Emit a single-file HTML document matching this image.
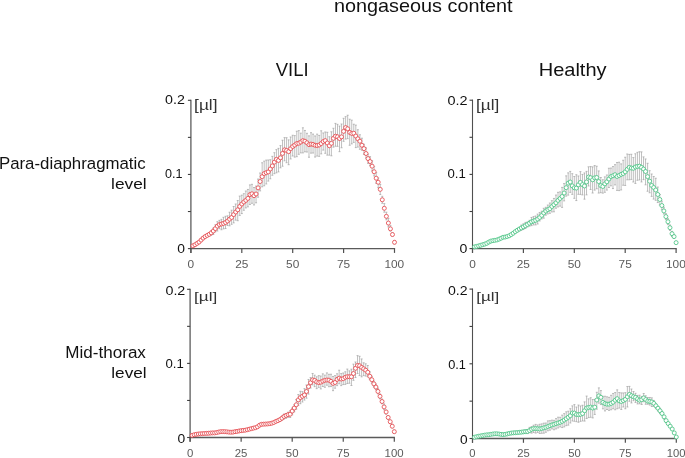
<!DOCTYPE html>
<html><head><meta charset="utf-8"><style>
html,body{margin:0;padding:0;background:#fff;}
body{width:685px;height:458px;overflow:hidden;position:relative;}
svg{position:absolute;left:0;top:0;will-change:transform;}
text{font-family:"Liberation Sans",sans-serif;}
</style></head><body>
<svg width="685" height="458" viewBox="0 0 685 458">
<text transform="translate(333.91,11.80) scale(1.0934,1)" font-size="18.15" fill="#111">nongaseous content</text>
<text transform="translate(275.71,75.90) scale(0.9573,1)" font-size="19.28" fill="#111">VILI</text>
<text transform="translate(538.70,75.70) scale(1.0550,1)" font-size="18.99" fill="#111">Healthy</text>
<text transform="translate(-1.05,168.80) scale(1.0559,1)" font-size="15.94" fill="#111">Para-diaphragmatic</text>
<text transform="translate(111.07,189.30) scale(1.1541,1)" font-size="15.03" fill="#111">level</text>
<text transform="translate(65.33,357.50) scale(1.0064,1)" font-size="16.96" fill="#111">Mid-thorax</text>
<text transform="translate(111.28,377.60) scale(1.1437,1)" font-size="15.03" fill="#111">level</text>
<line x1="190.9" y1="99.7" x2="190.9" y2="252.9" stroke="#5c5c5c" stroke-width="1.3"/>
<line x1="190.3" y1="248.6" x2="395.1" y2="248.6" stroke="#5a5a5a" stroke-width="1.4"/>
<line x1="187.9" y1="248.60" x2="190.9" y2="248.60" stroke="#404040" stroke-width="1.1"/>
<line x1="187.9" y1="211.52" x2="190.9" y2="211.52" stroke="#404040" stroke-width="1.1"/>
<line x1="187.9" y1="174.45" x2="190.9" y2="174.45" stroke="#404040" stroke-width="1.1"/>
<line x1="187.9" y1="137.38" x2="190.9" y2="137.38" stroke="#404040" stroke-width="1.1"/>
<line x1="187.9" y1="100.30" x2="190.9" y2="100.30" stroke="#404040" stroke-width="1.1"/>
<line x1="190.90" y1="248.6" x2="190.90" y2="252.9" stroke="#505050" stroke-width="1.2"/>
<line x1="241.80" y1="248.6" x2="241.80" y2="252.9" stroke="#505050" stroke-width="1.2"/>
<line x1="292.70" y1="248.6" x2="292.70" y2="252.9" stroke="#505050" stroke-width="1.2"/>
<line x1="343.60" y1="248.6" x2="343.60" y2="252.9" stroke="#505050" stroke-width="1.2"/>
<line x1="394.50" y1="248.6" x2="394.50" y2="252.9" stroke="#505050" stroke-width="1.2"/>
<text transform="translate(165.03,103.90) scale(1.0828,1)" font-size="13.14" fill="#111">0.2</text>
<text transform="translate(165.10,177.90) scale(0.9599,1)" font-size="13.14" fill="#111">0.1</text>
<text transform="translate(177.14,252.80) scale(1.0347,1)" font-size="13.43" fill="#111">0</text>
<text transform="translate(194.09,109.58) scale(1.2423,1)" font-size="13.90" fill="#333">[µl]</text>
<text transform="translate(187.60,267.60) scale(1.0942,1)" font-size="10.86" fill="#5c5c5c">0</text>
<text transform="translate(235.15,267.60) scale(1.0942,1)" font-size="10.86" fill="#5c5c5c">25</text>
<text transform="translate(286.11,267.60) scale(1.0942,1)" font-size="10.86" fill="#5c5c5c">50</text>
<text transform="translate(336.95,267.60) scale(1.0942,1)" font-size="10.86" fill="#5c5c5c">75</text>
<text transform="translate(384.40,267.60) scale(1.0942,1)" font-size="10.86" fill="#5c5c5c">100</text>
<path d="M197.01 242.68V244.17M199.04 241.51V242.71M201.08 239.47V240.83M203.12 237.46V238.94M205.15 235.63V237.41M207.19 234.38V236.44M209.22 233.10V235.85M211.26 230.74V235.11M213.30 228.10V234.48M215.33 224.84V231.83M217.37 221.70V231.01M219.40 220.36V228.68M221.44 219.36V229.74M223.48 217.32V228.86M225.51 216.29V228.52M227.55 215.84V225.47M229.58 212.23V225.82M231.62 210.19V224.30M233.66 206.50V222.86M235.69 204.01V220.13M237.73 200.53V220.71M239.76 196.10V215.42M241.80 195.18V213.58M243.84 193.71V210.26M245.87 191.02V207.92M247.91 189.44V206.85M249.94 184.91V204.45M251.98 184.32V203.28M254.02 187.54V204.95M256.05 186.08V202.80M258.09 179.06V197.19M260.12 173.01V190.90M262.16 162.78V186.80M264.20 161.14V185.79M266.23 160.11V183.96M268.27 160.00V181.09M270.30 159.72V178.79M272.34 156.35V175.26M274.38 152.70V173.68M276.41 149.65V172.83M278.45 148.36V171.87M280.48 145.61V167.80M282.52 140.22V166.24M284.56 137.64V160.84M286.59 137.73V162.71M288.63 139.86V164.69M290.66 136.97V158.95M292.70 135.28V156.00M294.74 135.64V157.12M296.77 131.23V156.70M298.81 130.62V154.29M300.84 133.15V152.87M302.88 127.80V152.89M304.92 130.46V151.80M306.95 133.32V152.03M308.99 135.87V157.24M311.02 132.68V153.14M313.06 134.12V153.02M315.10 135.96V157.05M317.13 134.13V156.06M319.17 135.41V156.34M321.20 130.81V153.86M323.24 132.98V150.08M325.28 131.99V153.30M327.31 132.30V155.12M329.35 136.74V155.13M331.38 131.78V155.81M333.42 128.28V147.13M335.46 123.40V146.24M337.49 124.33V146.33M339.53 126.06V151.67M341.56 124.01V147.76M343.60 118.30V141.32M345.64 116.65V139.07M347.67 115.23V138.63M349.71 119.23V145.27M351.74 120.15V143.87M353.78 124.24V142.38M355.82 125.12V147.60M357.85 129.73V147.08M359.89 134.76V149.28M361.92 138.21V150.19M363.96 144.24V154.39M366.00 147.84V158.07M368.03 154.18V163.31M370.07 156.65V165.50M372.10 160.72V170.99M374.14 166.52V175.90M376.18 172.64V183.33M378.21 178.02V187.71M380.25 184.46V194.50M382.28 196.31V203.30M384.32 203.61V212.16M386.36 212.20V219.81M388.39 218.45V226.86M390.43 225.64V231.10M392.46 232.63V236.09M394.50 240.46V243.86" stroke="#b4b4b4" stroke-width="0.85" fill="none"/>
<path d="M196.01 242.68h2M196.01 244.17h2M198.04 241.51h2M198.04 242.71h2M200.08 239.47h2M200.08 240.83h2M202.12 237.46h2M202.12 238.94h2M204.15 235.63h2M204.15 237.41h2M206.19 234.38h2M206.19 236.44h2M208.22 233.10h2M208.22 235.85h2M210.26 230.74h2M210.26 235.11h2M212.30 228.10h2M212.30 234.48h2M214.33 224.84h2M214.33 231.83h2M216.37 221.70h2M216.37 231.01h2M218.40 220.36h2M218.40 228.68h2M220.44 219.36h2M220.44 229.74h2M222.48 217.32h2M222.48 228.86h2M224.51 216.29h2M224.51 228.52h2M226.55 215.84h2M226.55 225.47h2M228.58 212.23h2M228.58 225.82h2M230.62 210.19h2M230.62 224.30h2M232.66 206.50h2M232.66 222.86h2M234.69 204.01h2M234.69 220.13h2M236.73 200.53h2M236.73 220.71h2M238.76 196.10h2M238.76 215.42h2M240.80 195.18h2M240.80 213.58h2M242.84 193.71h2M242.84 210.26h2M244.87 191.02h2M244.87 207.92h2M246.91 189.44h2M246.91 206.85h2M248.94 184.91h2M248.94 204.45h2M250.98 184.32h2M250.98 203.28h2M253.02 187.54h2M253.02 204.95h2M255.05 186.08h2M255.05 202.80h2M257.09 179.06h2M257.09 197.19h2M259.12 173.01h2M259.12 190.90h2M261.16 162.78h2M261.16 186.80h2M263.20 161.14h2M263.20 185.79h2M265.23 160.11h2M265.23 183.96h2M267.27 160.00h2M267.27 181.09h2M269.30 159.72h2M269.30 178.79h2M271.34 156.35h2M271.34 175.26h2M273.38 152.70h2M273.38 173.68h2M275.41 149.65h2M275.41 172.83h2M277.45 148.36h2M277.45 171.87h2M279.48 145.61h2M279.48 167.80h2M281.52 140.22h2M281.52 166.24h2M283.56 137.64h2M283.56 160.84h2M285.59 137.73h2M285.59 162.71h2M287.63 139.86h2M287.63 164.69h2M289.66 136.97h2M289.66 158.95h2M291.70 135.28h2M291.70 156.00h2M293.74 135.64h2M293.74 157.12h2M295.77 131.23h2M295.77 156.70h2M297.81 130.62h2M297.81 154.29h2M299.84 133.15h2M299.84 152.87h2M301.88 127.80h2M301.88 152.89h2M303.92 130.46h2M303.92 151.80h2M305.95 133.32h2M305.95 152.03h2M307.99 135.87h2M307.99 157.24h2M310.02 132.68h2M310.02 153.14h2M312.06 134.12h2M312.06 153.02h2M314.10 135.96h2M314.10 157.05h2M316.13 134.13h2M316.13 156.06h2M318.17 135.41h2M318.17 156.34h2M320.20 130.81h2M320.20 153.86h2M322.24 132.98h2M322.24 150.08h2M324.28 131.99h2M324.28 153.30h2M326.31 132.30h2M326.31 155.12h2M328.35 136.74h2M328.35 155.13h2M330.38 131.78h2M330.38 155.81h2M332.42 128.28h2M332.42 147.13h2M334.46 123.40h2M334.46 146.24h2M336.49 124.33h2M336.49 146.33h2M338.53 126.06h2M338.53 151.67h2M340.56 124.01h2M340.56 147.76h2M342.60 118.30h2M342.60 141.32h2M344.64 116.65h2M344.64 139.07h2M346.67 115.23h2M346.67 138.63h2M348.71 119.23h2M348.71 145.27h2M350.74 120.15h2M350.74 143.87h2M352.78 124.24h2M352.78 142.38h2M354.82 125.12h2M354.82 147.60h2M356.85 129.73h2M356.85 147.08h2M358.89 134.76h2M358.89 149.28h2M360.92 138.21h2M360.92 150.19h2M362.96 144.24h2M362.96 154.39h2M365.00 147.84h2M365.00 158.07h2M367.03 154.18h2M367.03 163.31h2M369.07 156.65h2M369.07 165.50h2M371.10 160.72h2M371.10 170.99h2M373.14 166.52h2M373.14 175.90h2M375.18 172.64h2M375.18 183.33h2M377.21 178.02h2M377.21 187.71h2M379.25 184.46h2M379.25 194.50h2M381.28 196.31h2M381.28 203.30h2M383.32 203.61h2M383.32 212.16h2M385.36 212.20h2M385.36 219.81h2M387.39 218.45h2M387.39 226.86h2M389.43 225.64h2M389.43 231.10h2M391.46 232.63h2M391.46 236.09h2M393.50 240.46h2M393.50 243.86h2" stroke="#a0a0a0" stroke-width="0.7" fill="none"/>
<g fill="#fff" stroke="#e5484d" stroke-width="0.85"><circle cx="192.94" cy="245.82" r="2.0"/><circle cx="194.97" cy="244.75" r="2.0"/><circle cx="197.01" cy="243.43" r="2.0"/><circle cx="199.04" cy="242.10" r="2.0"/><circle cx="201.08" cy="240.08" r="2.0"/><circle cx="203.12" cy="238.12" r="2.0"/><circle cx="205.15" cy="236.59" r="2.0"/><circle cx="207.19" cy="235.43" r="2.0"/><circle cx="209.22" cy="234.30" r="2.0"/><circle cx="211.26" cy="232.84" r="2.0"/><circle cx="213.30" cy="231.00" r="2.0"/><circle cx="215.33" cy="228.58" r="2.0"/><circle cx="217.37" cy="226.13" r="2.0"/><circle cx="219.40" cy="224.60" r="2.0"/><circle cx="221.44" cy="223.97" r="2.0"/><circle cx="223.48" cy="223.43" r="2.0"/><circle cx="225.51" cy="222.47" r="2.0"/><circle cx="227.55" cy="221.00" r="2.0"/><circle cx="229.58" cy="219.16" r="2.0"/><circle cx="231.62" cy="217.48" r="2.0"/><circle cx="233.66" cy="214.56" r="2.0"/><circle cx="235.69" cy="212.03" r="2.0"/><circle cx="237.73" cy="209.79" r="2.0"/><circle cx="239.76" cy="206.42" r="2.0"/><circle cx="241.80" cy="204.00" r="2.0"/><circle cx="243.84" cy="201.99" r="2.0"/><circle cx="245.87" cy="200.34" r="2.0"/><circle cx="247.91" cy="198.38" r="2.0"/><circle cx="249.94" cy="194.60" r="2.0"/><circle cx="251.98" cy="193.81" r="2.0"/><circle cx="254.02" cy="195.69" r="2.0"/><circle cx="256.05" cy="194.00" r="2.0"/><circle cx="258.09" cy="187.87" r="2.0"/><circle cx="260.12" cy="181.54" r="2.0"/><circle cx="262.16" cy="176.67" r="2.0"/><circle cx="264.20" cy="173.57" r="2.0"/><circle cx="266.23" cy="172.66" r="2.0"/><circle cx="268.27" cy="171.88" r="2.0"/><circle cx="270.30" cy="168.94" r="2.0"/><circle cx="272.34" cy="165.93" r="2.0"/><circle cx="274.38" cy="162.14" r="2.0"/><circle cx="276.41" cy="159.35" r="2.0"/><circle cx="278.45" cy="160.46" r="2.0"/><circle cx="280.48" cy="157.79" r="2.0"/><circle cx="282.52" cy="153.45" r="2.0"/><circle cx="284.56" cy="149.84" r="2.0"/><circle cx="286.59" cy="150.45" r="2.0"/><circle cx="288.63" cy="151.66" r="2.0"/><circle cx="290.66" cy="148.60" r="2.0"/><circle cx="292.70" cy="146.50" r="2.0"/><circle cx="294.74" cy="145.10" r="2.0"/><circle cx="296.77" cy="143.51" r="2.0"/><circle cx="298.81" cy="143.19" r="2.0"/><circle cx="300.84" cy="142.06" r="2.0"/><circle cx="302.88" cy="140.68" r="2.0"/><circle cx="304.92" cy="141.20" r="2.0"/><circle cx="306.95" cy="142.77" r="2.0"/><circle cx="308.99" cy="144.61" r="2.0"/><circle cx="311.02" cy="144.08" r="2.0"/><circle cx="313.06" cy="144.43" r="2.0"/><circle cx="315.10" cy="145.28" r="2.0"/><circle cx="317.13" cy="145.50" r="2.0"/><circle cx="319.17" cy="145.00" r="2.0"/><circle cx="321.20" cy="143.55" r="2.0"/><circle cx="323.24" cy="141.56" r="2.0"/><circle cx="325.28" cy="140.61" r="2.0"/><circle cx="327.31" cy="143.02" r="2.0"/><circle cx="329.35" cy="145.73" r="2.0"/><circle cx="331.38" cy="143.32" r="2.0"/><circle cx="333.42" cy="138.36" r="2.0"/><circle cx="335.46" cy="136.22" r="2.0"/><circle cx="337.49" cy="136.77" r="2.0"/><circle cx="339.53" cy="138.50" r="2.0"/><circle cx="341.56" cy="136.83" r="2.0"/><circle cx="343.60" cy="131.35" r="2.0"/><circle cx="345.64" cy="127.59" r="2.0"/><circle cx="347.67" cy="128.78" r="2.0"/><circle cx="349.71" cy="132.45" r="2.0"/><circle cx="351.74" cy="133.47" r="2.0"/><circle cx="353.78" cy="133.23" r="2.0"/><circle cx="355.82" cy="136.07" r="2.0"/><circle cx="357.85" cy="138.80" r="2.0"/><circle cx="359.89" cy="141.17" r="2.0"/><circle cx="361.92" cy="145.24" r="2.0"/><circle cx="363.96" cy="148.63" r="2.0"/><circle cx="366.00" cy="153.53" r="2.0"/><circle cx="368.03" cy="158.58" r="2.0"/><circle cx="370.07" cy="161.55" r="2.0"/><circle cx="372.10" cy="166.17" r="2.0"/><circle cx="374.14" cy="171.77" r="2.0"/><circle cx="376.18" cy="178.20" r="2.0"/><circle cx="378.21" cy="182.26" r="2.0"/><circle cx="380.25" cy="189.34" r="2.0"/><circle cx="382.28" cy="199.79" r="2.0"/><circle cx="384.32" cy="208.29" r="2.0"/><circle cx="386.36" cy="216.33" r="2.0"/><circle cx="388.39" cy="223.05" r="2.0"/><circle cx="390.43" cy="228.83" r="2.0"/><circle cx="392.46" cy="234.54" r="2.0"/><circle cx="394.50" cy="242.31" r="2.0"/></g>
<line x1="472.5" y1="99.60000000000001" x2="472.5" y2="252.9" stroke="#505050" stroke-width="1.1"/>
<line x1="471.9" y1="248.6" x2="676.7" y2="248.6" stroke="#5a5a5a" stroke-width="1.4"/>
<line x1="469.5" y1="248.60" x2="472.5" y2="248.60" stroke="#404040" stroke-width="1.1"/>
<line x1="469.5" y1="211.50" x2="472.5" y2="211.50" stroke="#404040" stroke-width="1.1"/>
<line x1="469.5" y1="174.40" x2="472.5" y2="174.40" stroke="#404040" stroke-width="1.1"/>
<line x1="469.5" y1="137.30" x2="472.5" y2="137.30" stroke="#404040" stroke-width="1.1"/>
<line x1="469.5" y1="100.20" x2="472.5" y2="100.20" stroke="#404040" stroke-width="1.1"/>
<line x1="472.50" y1="248.6" x2="472.50" y2="252.9" stroke="#505050" stroke-width="1.2"/>
<line x1="523.40" y1="248.6" x2="523.40" y2="252.9" stroke="#505050" stroke-width="1.2"/>
<line x1="574.30" y1="248.6" x2="574.30" y2="252.9" stroke="#505050" stroke-width="1.2"/>
<line x1="625.20" y1="248.6" x2="625.20" y2="252.9" stroke="#505050" stroke-width="1.2"/>
<line x1="676.10" y1="248.6" x2="676.10" y2="252.9" stroke="#505050" stroke-width="1.2"/>
<text transform="translate(447.42,104.50) scale(1.0545,1)" font-size="13.71" fill="#111">0.2</text>
<text transform="translate(447.47,178.30) scale(0.9901,1)" font-size="13.29" fill="#111">0.1</text>
<text transform="translate(459.54,253.00) scale(1.0393,1)" font-size="13.57" fill="#111">0</text>
<text transform="translate(476.00,109.86) scale(1.2269,1)" font-size="14.01" fill="#333">[µl]</text>
<text transform="translate(469.20,267.60) scale(1.0942,1)" font-size="10.86" fill="#5c5c5c">0</text>
<text transform="translate(516.75,267.60) scale(1.0942,1)" font-size="10.86" fill="#5c5c5c">25</text>
<text transform="translate(567.71,267.60) scale(1.0942,1)" font-size="10.86" fill="#5c5c5c">50</text>
<text transform="translate(618.55,267.60) scale(1.0942,1)" font-size="10.86" fill="#5c5c5c">75</text>
<text transform="translate(666.00,267.60) scale(1.0942,1)" font-size="10.86" fill="#5c5c5c">100</text>
<path d="M482.68 244.15V245.22M484.72 243.59V244.80M486.75 242.67V243.87M488.79 241.29V242.70M490.82 240.44V241.76M492.86 239.84V241.37M494.90 239.51V240.98M496.93 239.23V240.63M498.97 238.43V239.85M501.00 237.54V239.25M503.04 236.26V238.02M505.08 236.33V237.79M507.11 235.55V237.55M509.15 235.06V236.75M511.18 233.84V235.54M513.22 232.18V234.40M515.26 230.68V232.82M517.29 228.53V232.04M519.33 227.52V230.92M521.36 225.06V230.18M523.40 223.80V229.54M525.44 222.41V228.53M527.47 221.97V227.01M529.51 220.37V226.16M531.54 217.47V225.61M533.58 216.60V224.92M535.62 216.01V224.89M537.65 214.11V224.00M539.69 212.48V220.95M541.72 211.18V218.89M543.76 208.30V218.16M545.80 207.30V215.16M547.83 205.04V213.92M549.87 203.02V213.33M551.90 200.66V211.93M553.94 198.44V211.79M555.98 195.07V208.21M558.01 192.32V206.92M560.05 191.88V206.11M562.08 187.41V207.37M564.12 183.58V200.88M566.16 175.87V196.13M568.19 172.86V195.12M570.23 171.40V192.35M572.26 173.69V194.35M574.30 176.53V198.32M576.34 174.74V200.55M578.37 175.97V194.31M580.41 171.65V194.40M582.44 174.41V194.92M584.48 172.95V199.18M586.52 171.39V194.87M588.55 166.82V185.98M590.59 166.56V189.47M592.62 166.87V193.03M594.66 165.55V190.11M596.70 166.22V188.73M598.73 170.94V193.06M600.77 177.50V192.67M602.80 179.74V193.13M604.84 176.89V192.29M606.88 175.02V190.08M608.91 168.25V187.48M610.95 168.07V185.82M612.98 166.59V188.55M615.02 164.67V184.90M617.06 162.49V190.39M619.09 162.22V190.60M621.13 163.90V189.93M623.16 160.26V185.23M625.20 157.26V185.46M627.24 154.01V179.81M629.27 154.40V179.77M631.31 154.28V179.43M633.34 157.59V181.99M635.38 153.77V183.44M637.42 152.35V180.28M639.45 151.73V179.93M641.49 151.88V181.93M643.52 156.89V179.66M645.56 158.96V184.82M647.60 163.29V191.24M649.63 170.66V192.78M651.67 174.00V196.38M653.70 176.51V199.08M655.74 178.25V200.31M657.78 187.06V202.54M659.81 194.46V204.99M661.85 201.13V209.78M663.88 207.21V214.07M665.92 213.64V219.64M667.96 218.71V224.63M669.99 224.96V230.44M672.03 231.36V236.49M674.06 234.51V238.40M676.10 241.32V243.87" stroke="#b4b4b4" stroke-width="0.85" fill="none"/>
<path d="M481.68 244.15h2M481.68 245.22h2M483.72 243.59h2M483.72 244.80h2M485.75 242.67h2M485.75 243.87h2M487.79 241.29h2M487.79 242.70h2M489.82 240.44h2M489.82 241.76h2M491.86 239.84h2M491.86 241.37h2M493.90 239.51h2M493.90 240.98h2M495.93 239.23h2M495.93 240.63h2M497.97 238.43h2M497.97 239.85h2M500.00 237.54h2M500.00 239.25h2M502.04 236.26h2M502.04 238.02h2M504.08 236.33h2M504.08 237.79h2M506.11 235.55h2M506.11 237.55h2M508.15 235.06h2M508.15 236.75h2M510.18 233.84h2M510.18 235.54h2M512.22 232.18h2M512.22 234.40h2M514.26 230.68h2M514.26 232.82h2M516.29 228.53h2M516.29 232.04h2M518.33 227.52h2M518.33 230.92h2M520.36 225.06h2M520.36 230.18h2M522.40 223.80h2M522.40 229.54h2M524.44 222.41h2M524.44 228.53h2M526.47 221.97h2M526.47 227.01h2M528.51 220.37h2M528.51 226.16h2M530.54 217.47h2M530.54 225.61h2M532.58 216.60h2M532.58 224.92h2M534.62 216.01h2M534.62 224.89h2M536.65 214.11h2M536.65 224.00h2M538.69 212.48h2M538.69 220.95h2M540.72 211.18h2M540.72 218.89h2M542.76 208.30h2M542.76 218.16h2M544.80 207.30h2M544.80 215.16h2M546.83 205.04h2M546.83 213.92h2M548.87 203.02h2M548.87 213.33h2M550.90 200.66h2M550.90 211.93h2M552.94 198.44h2M552.94 211.79h2M554.98 195.07h2M554.98 208.21h2M557.01 192.32h2M557.01 206.92h2M559.05 191.88h2M559.05 206.11h2M561.08 187.41h2M561.08 207.37h2M563.12 183.58h2M563.12 200.88h2M565.16 175.87h2M565.16 196.13h2M567.19 172.86h2M567.19 195.12h2M569.23 171.40h2M569.23 192.35h2M571.26 173.69h2M571.26 194.35h2M573.30 176.53h2M573.30 198.32h2M575.34 174.74h2M575.34 200.55h2M577.37 175.97h2M577.37 194.31h2M579.41 171.65h2M579.41 194.40h2M581.44 174.41h2M581.44 194.92h2M583.48 172.95h2M583.48 199.18h2M585.52 171.39h2M585.52 194.87h2M587.55 166.82h2M587.55 185.98h2M589.59 166.56h2M589.59 189.47h2M591.62 166.87h2M591.62 193.03h2M593.66 165.55h2M593.66 190.11h2M595.70 166.22h2M595.70 188.73h2M597.73 170.94h2M597.73 193.06h2M599.77 177.50h2M599.77 192.67h2M601.80 179.74h2M601.80 193.13h2M603.84 176.89h2M603.84 192.29h2M605.88 175.02h2M605.88 190.08h2M607.91 168.25h2M607.91 187.48h2M609.95 168.07h2M609.95 185.82h2M611.98 166.59h2M611.98 188.55h2M614.02 164.67h2M614.02 184.90h2M616.06 162.49h2M616.06 190.39h2M618.09 162.22h2M618.09 190.60h2M620.13 163.90h2M620.13 189.93h2M622.16 160.26h2M622.16 185.23h2M624.20 157.26h2M624.20 185.46h2M626.24 154.01h2M626.24 179.81h2M628.27 154.40h2M628.27 179.77h2M630.31 154.28h2M630.31 179.43h2M632.34 157.59h2M632.34 181.99h2M634.38 153.77h2M634.38 183.44h2M636.42 152.35h2M636.42 180.28h2M638.45 151.73h2M638.45 179.93h2M640.49 151.88h2M640.49 181.93h2M642.52 156.89h2M642.52 179.66h2M644.56 158.96h2M644.56 184.82h2M646.60 163.29h2M646.60 191.24h2M648.63 170.66h2M648.63 192.78h2M650.67 174.00h2M650.67 196.38h2M652.70 176.51h2M652.70 199.08h2M654.74 178.25h2M654.74 200.31h2M656.78 187.06h2M656.78 202.54h2M658.81 194.46h2M658.81 204.99h2M660.85 201.13h2M660.85 209.78h2M662.88 207.21h2M662.88 214.07h2M664.92 213.64h2M664.92 219.64h2M666.96 218.71h2M666.96 224.63h2M668.99 224.96h2M668.99 230.44h2M671.03 231.36h2M671.03 236.49h2M673.06 234.51h2M673.06 238.40h2M675.10 241.32h2M675.10 243.87h2" stroke="#a0a0a0" stroke-width="0.7" fill="none"/>
<g fill="#fff" stroke="#4cc484" stroke-width="0.85"><circle cx="474.54" cy="246.87" r="2.0"/><circle cx="476.57" cy="246.42" r="2.0"/><circle cx="478.61" cy="245.92" r="2.0"/><circle cx="480.64" cy="245.31" r="2.0"/><circle cx="482.68" cy="244.70" r="2.0"/><circle cx="484.72" cy="244.11" r="2.0"/><circle cx="486.75" cy="243.31" r="2.0"/><circle cx="488.79" cy="242.09" r="2.0"/><circle cx="490.82" cy="241.12" r="2.0"/><circle cx="492.86" cy="240.61" r="2.0"/><circle cx="494.90" cy="240.30" r="2.0"/><circle cx="496.93" cy="239.94" r="2.0"/><circle cx="498.97" cy="239.17" r="2.0"/><circle cx="501.00" cy="238.25" r="2.0"/><circle cx="503.04" cy="237.28" r="2.0"/><circle cx="505.08" cy="237.03" r="2.0"/><circle cx="507.11" cy="236.53" r="2.0"/><circle cx="509.15" cy="235.79" r="2.0"/><circle cx="511.18" cy="234.58" r="2.0"/><circle cx="513.22" cy="233.22" r="2.0"/><circle cx="515.26" cy="231.62" r="2.0"/><circle cx="517.29" cy="230.27" r="2.0"/><circle cx="519.33" cy="229.02" r="2.0"/><circle cx="521.36" cy="227.92" r="2.0"/><circle cx="523.40" cy="226.82" r="2.0"/><circle cx="525.44" cy="225.65" r="2.0"/><circle cx="527.47" cy="224.45" r="2.0"/><circle cx="529.51" cy="223.16" r="2.0"/><circle cx="531.54" cy="221.80" r="2.0"/><circle cx="533.58" cy="220.97" r="2.0"/><circle cx="535.62" cy="220.29" r="2.0"/><circle cx="537.65" cy="219.07" r="2.0"/><circle cx="539.69" cy="217.41" r="2.0"/><circle cx="541.72" cy="215.36" r="2.0"/><circle cx="543.76" cy="212.98" r="2.0"/><circle cx="545.80" cy="211.08" r="2.0"/><circle cx="547.83" cy="209.61" r="2.0"/><circle cx="549.87" cy="208.66" r="2.0"/><circle cx="551.90" cy="206.47" r="2.0"/><circle cx="553.94" cy="204.65" r="2.0"/><circle cx="555.98" cy="202.83" r="2.0"/><circle cx="558.01" cy="200.39" r="2.0"/><circle cx="560.05" cy="198.49" r="2.0"/><circle cx="562.08" cy="196.49" r="2.0"/><circle cx="564.12" cy="193.02" r="2.0"/><circle cx="566.16" cy="187.68" r="2.0"/><circle cx="568.19" cy="183.14" r="2.0"/><circle cx="570.23" cy="182.03" r="2.0"/><circle cx="572.26" cy="185.86" r="2.0"/><circle cx="574.30" cy="187.81" r="2.0"/><circle cx="576.34" cy="188.09" r="2.0"/><circle cx="578.37" cy="184.81" r="2.0"/><circle cx="580.41" cy="182.42" r="2.0"/><circle cx="582.44" cy="184.60" r="2.0"/><circle cx="584.48" cy="185.99" r="2.0"/><circle cx="586.52" cy="181.94" r="2.0"/><circle cx="588.55" cy="177.00" r="2.0"/><circle cx="590.59" cy="177.69" r="2.0"/><circle cx="592.62" cy="179.78" r="2.0"/><circle cx="594.66" cy="177.85" r="2.0"/><circle cx="596.70" cy="177.49" r="2.0"/><circle cx="598.73" cy="181.56" r="2.0"/><circle cx="600.77" cy="185.63" r="2.0"/><circle cx="602.80" cy="186.47" r="2.0"/><circle cx="604.84" cy="183.86" r="2.0"/><circle cx="606.88" cy="181.82" r="2.0"/><circle cx="608.91" cy="179.01" r="2.0"/><circle cx="610.95" cy="176.53" r="2.0"/><circle cx="612.98" cy="175.78" r="2.0"/><circle cx="615.02" cy="174.72" r="2.0"/><circle cx="617.06" cy="176.46" r="2.0"/><circle cx="619.09" cy="175.49" r="2.0"/><circle cx="621.13" cy="174.34" r="2.0"/><circle cx="623.16" cy="173.50" r="2.0"/><circle cx="625.20" cy="171.83" r="2.0"/><circle cx="627.24" cy="169.35" r="2.0"/><circle cx="629.27" cy="167.39" r="2.0"/><circle cx="631.31" cy="168.02" r="2.0"/><circle cx="633.34" cy="168.27" r="2.0"/><circle cx="635.38" cy="166.98" r="2.0"/><circle cx="637.42" cy="166.44" r="2.0"/><circle cx="639.45" cy="166.15" r="2.0"/><circle cx="641.49" cy="167.39" r="2.0"/><circle cx="643.52" cy="169.04" r="2.0"/><circle cx="645.56" cy="171.51" r="2.0"/><circle cx="647.60" cy="176.64" r="2.0"/><circle cx="649.63" cy="181.17" r="2.0"/><circle cx="651.67" cy="185.47" r="2.0"/><circle cx="653.70" cy="187.50" r="2.0"/><circle cx="655.74" cy="189.98" r="2.0"/><circle cx="657.78" cy="194.47" r="2.0"/><circle cx="659.81" cy="199.49" r="2.0"/><circle cx="661.85" cy="205.53" r="2.0"/><circle cx="663.88" cy="210.93" r="2.0"/><circle cx="665.92" cy="216.58" r="2.0"/><circle cx="667.96" cy="221.74" r="2.0"/><circle cx="669.99" cy="227.69" r="2.0"/><circle cx="672.03" cy="233.70" r="2.0"/><circle cx="674.06" cy="236.58" r="2.0"/><circle cx="676.10" cy="242.65" r="2.0"/></g>
<line x1="190.1" y1="288.7" x2="190.1" y2="441.8" stroke="#5c5c5c" stroke-width="1.3"/>
<line x1="189.5" y1="437.5" x2="394.90000000000003" y2="437.5" stroke="#5a5a5a" stroke-width="1.4"/>
<line x1="187.1" y1="437.50" x2="190.1" y2="437.50" stroke="#404040" stroke-width="1.1"/>
<line x1="187.1" y1="400.45" x2="190.1" y2="400.45" stroke="#404040" stroke-width="1.1"/>
<line x1="187.1" y1="363.40" x2="190.1" y2="363.40" stroke="#404040" stroke-width="1.1"/>
<line x1="187.1" y1="326.35" x2="190.1" y2="326.35" stroke="#404040" stroke-width="1.1"/>
<line x1="187.1" y1="289.30" x2="190.1" y2="289.30" stroke="#404040" stroke-width="1.1"/>
<line x1="190.10" y1="437.5" x2="190.10" y2="441.8" stroke="#505050" stroke-width="1.2"/>
<line x1="241.15" y1="437.5" x2="241.15" y2="441.8" stroke="#505050" stroke-width="1.2"/>
<line x1="292.20" y1="437.5" x2="292.20" y2="441.8" stroke="#505050" stroke-width="1.2"/>
<line x1="343.25" y1="437.5" x2="343.25" y2="441.8" stroke="#505050" stroke-width="1.2"/>
<line x1="394.30" y1="437.5" x2="394.30" y2="441.8" stroke="#505050" stroke-width="1.2"/>
<text transform="translate(165.43,294.50) scale(1.0433,1)" font-size="13.71" fill="#111">0.2</text>
<text transform="translate(165.47,368.30) scale(0.9901,1)" font-size="13.29" fill="#111">0.1</text>
<text transform="translate(177.44,442.90) scale(1.0928,1)" font-size="12.71" fill="#111">0</text>
<text transform="translate(194.00,300.85) scale(1.2656,1)" font-size="13.58" fill="#333">[µl]</text>
<text transform="translate(186.93,456.90) scale(1.0948,1)" font-size="10.43" fill="#5c5c5c">0</text>
<text transform="translate(234.76,456.90) scale(1.0948,1)" font-size="10.43" fill="#5c5c5c">25</text>
<text transform="translate(285.86,456.90) scale(1.0948,1)" font-size="10.43" fill="#5c5c5c">50</text>
<text transform="translate(336.86,456.90) scale(1.0948,1)" font-size="10.43" fill="#5c5c5c">75</text>
<text transform="translate(384.60,456.90) scale(1.0948,1)" font-size="10.43" fill="#5c5c5c">100</text>
<path d="M243.19 429.82V431.00M245.23 429.53V430.82M247.28 429.09V430.19M249.32 428.65V429.88M251.36 427.97V429.35M253.40 427.34V428.87M255.44 427.10V428.28M257.49 426.07V427.41M259.53 424.36V426.06M261.57 423.48V425.02M263.61 423.30V424.76M265.65 423.37V424.78M267.70 423.08V424.67M269.74 422.99V424.35M271.78 422.46V423.90M273.82 421.80V423.24M275.86 420.51V422.46M277.91 419.24V421.89M279.95 418.06V421.31M281.99 416.01V420.16M284.03 414.05V419.05M286.07 413.52V418.31M288.12 412.17V417.34M290.16 410.72V417.49M292.20 408.10V414.90M294.24 404.74V411.84M296.28 399.58V409.21M298.33 394.54V405.41M300.37 391.31V403.73M302.41 391.64V402.03M304.45 388.68V400.09M306.49 384.97V398.18M308.54 379.48V394.09M310.58 377.55V388.04M312.62 373.49V384.94M314.66 375.19V386.66M316.70 376.80V388.67M318.75 375.63V387.35M320.79 376.06V388.93M322.83 373.85V386.51M324.87 375.15V387.27M326.91 372.92V385.20M328.96 374.31V386.73M331.00 374.24V386.57M333.04 376.46V390.67M335.08 375.60V388.21M337.12 373.76V385.65M339.17 370.22V383.76M341.21 373.58V385.63M343.25 372.99V384.57M345.29 371.77V384.38M347.33 369.09V383.48M349.38 370.86V383.22M351.42 369.21V385.48M353.46 364.14V380.32M355.50 361.99V377.53M357.54 355.62V373.53M359.59 356.29V375.58M361.63 358.94V376.84M363.67 362.79V375.60M365.71 363.81V376.08M367.75 365.50V376.73M369.80 371.77V379.61M371.84 376.30V383.21M373.88 381.05V387.08M375.92 384.07V389.78M377.96 388.28V393.86M380.01 393.94V398.89M382.05 398.99V403.80M384.09 403.90V409.82M386.13 410.00V414.20M388.17 415.57V419.57M390.22 420.01V423.67M392.26 424.22V427.83M394.30 430.10V433.26" stroke="#b4b4b4" stroke-width="0.85" fill="none"/>
<path d="M242.19 429.82h2M242.19 431.00h2M244.23 429.53h2M244.23 430.82h2M246.28 429.09h2M246.28 430.19h2M248.32 428.65h2M248.32 429.88h2M250.36 427.97h2M250.36 429.35h2M252.40 427.34h2M252.40 428.87h2M254.44 427.10h2M254.44 428.28h2M256.49 426.07h2M256.49 427.41h2M258.53 424.36h2M258.53 426.06h2M260.57 423.48h2M260.57 425.02h2M262.61 423.30h2M262.61 424.76h2M264.65 423.37h2M264.65 424.78h2M266.70 423.08h2M266.70 424.67h2M268.74 422.99h2M268.74 424.35h2M270.78 422.46h2M270.78 423.90h2M272.82 421.80h2M272.82 423.24h2M274.86 420.51h2M274.86 422.46h2M276.91 419.24h2M276.91 421.89h2M278.95 418.06h2M278.95 421.31h2M280.99 416.01h2M280.99 420.16h2M283.03 414.05h2M283.03 419.05h2M285.07 413.52h2M285.07 418.31h2M287.12 412.17h2M287.12 417.34h2M289.16 410.72h2M289.16 417.49h2M291.20 408.10h2M291.20 414.90h2M293.24 404.74h2M293.24 411.84h2M295.28 399.58h2M295.28 409.21h2M297.33 394.54h2M297.33 405.41h2M299.37 391.31h2M299.37 403.73h2M301.41 391.64h2M301.41 402.03h2M303.45 388.68h2M303.45 400.09h2M305.49 384.97h2M305.49 398.18h2M307.54 379.48h2M307.54 394.09h2M309.58 377.55h2M309.58 388.04h2M311.62 373.49h2M311.62 384.94h2M313.66 375.19h2M313.66 386.66h2M315.70 376.80h2M315.70 388.67h2M317.75 375.63h2M317.75 387.35h2M319.79 376.06h2M319.79 388.93h2M321.83 373.85h2M321.83 386.51h2M323.87 375.15h2M323.87 387.27h2M325.91 372.92h2M325.91 385.20h2M327.96 374.31h2M327.96 386.73h2M330.00 374.24h2M330.00 386.57h2M332.04 376.46h2M332.04 390.67h2M334.08 375.60h2M334.08 388.21h2M336.12 373.76h2M336.12 385.65h2M338.17 370.22h2M338.17 383.76h2M340.21 373.58h2M340.21 385.63h2M342.25 372.99h2M342.25 384.57h2M344.29 371.77h2M344.29 384.38h2M346.33 369.09h2M346.33 383.48h2M348.38 370.86h2M348.38 383.22h2M350.42 369.21h2M350.42 385.48h2M352.46 364.14h2M352.46 380.32h2M354.50 361.99h2M354.50 377.53h2M356.54 355.62h2M356.54 373.53h2M358.59 356.29h2M358.59 375.58h2M360.63 358.94h2M360.63 376.84h2M362.67 362.79h2M362.67 375.60h2M364.71 363.81h2M364.71 376.08h2M366.75 365.50h2M366.75 376.73h2M368.80 371.77h2M368.80 379.61h2M370.84 376.30h2M370.84 383.21h2M372.88 381.05h2M372.88 387.08h2M374.92 384.07h2M374.92 389.78h2M376.96 388.28h2M376.96 393.86h2M379.01 393.94h2M379.01 398.89h2M381.05 398.99h2M381.05 403.80h2M383.09 403.90h2M383.09 409.82h2M385.13 410.00h2M385.13 414.20h2M387.17 415.57h2M387.17 419.57h2M389.22 420.01h2M389.22 423.67h2M391.26 424.22h2M391.26 427.83h2M393.30 430.10h2M393.30 433.26h2" stroke="#a0a0a0" stroke-width="0.7" fill="none"/>
<g fill="#fff" stroke="#e5484d" stroke-width="0.85"><circle cx="192.14" cy="435.36" r="2.0"/><circle cx="194.18" cy="434.73" r="2.0"/><circle cx="196.23" cy="434.32" r="2.0"/><circle cx="198.27" cy="434.02" r="2.0"/><circle cx="200.31" cy="433.81" r="2.0"/><circle cx="202.35" cy="433.67" r="2.0"/><circle cx="204.39" cy="433.52" r="2.0"/><circle cx="206.44" cy="433.38" r="2.0"/><circle cx="208.48" cy="433.25" r="2.0"/><circle cx="210.52" cy="433.06" r="2.0"/><circle cx="212.56" cy="432.90" r="2.0"/><circle cx="214.60" cy="432.90" r="2.0"/><circle cx="216.65" cy="432.50" r="2.0"/><circle cx="218.69" cy="432.04" r="2.0"/><circle cx="220.73" cy="431.61" r="2.0"/><circle cx="222.77" cy="431.60" r="2.0"/><circle cx="224.81" cy="431.67" r="2.0"/><circle cx="226.86" cy="431.82" r="2.0"/><circle cx="228.90" cy="432.10" r="2.0"/><circle cx="230.94" cy="432.20" r="2.0"/><circle cx="232.98" cy="432.10" r="2.0"/><circle cx="235.02" cy="431.68" r="2.0"/><circle cx="237.07" cy="431.39" r="2.0"/><circle cx="239.11" cy="430.96" r="2.0"/><circle cx="241.15" cy="430.66" r="2.0"/><circle cx="243.19" cy="430.41" r="2.0"/><circle cx="245.23" cy="430.19" r="2.0"/><circle cx="247.28" cy="429.70" r="2.0"/><circle cx="249.32" cy="429.18" r="2.0"/><circle cx="251.36" cy="428.64" r="2.0"/><circle cx="253.40" cy="428.14" r="2.0"/><circle cx="255.44" cy="427.65" r="2.0"/><circle cx="257.49" cy="426.79" r="2.0"/><circle cx="259.53" cy="425.21" r="2.0"/><circle cx="261.57" cy="424.31" r="2.0"/><circle cx="263.61" cy="424.15" r="2.0"/><circle cx="265.65" cy="424.05" r="2.0"/><circle cx="267.70" cy="423.92" r="2.0"/><circle cx="269.74" cy="423.64" r="2.0"/><circle cx="271.78" cy="423.18" r="2.0"/><circle cx="273.82" cy="422.47" r="2.0"/><circle cx="275.86" cy="421.42" r="2.0"/><circle cx="277.91" cy="420.64" r="2.0"/><circle cx="279.95" cy="419.58" r="2.0"/><circle cx="281.99" cy="418.17" r="2.0"/><circle cx="284.03" cy="416.48" r="2.0"/><circle cx="286.07" cy="415.47" r="2.0"/><circle cx="288.12" cy="414.63" r="2.0"/><circle cx="290.16" cy="414.16" r="2.0"/><circle cx="292.20" cy="411.10" r="2.0"/><circle cx="294.24" cy="408.03" r="2.0"/><circle cx="296.28" cy="404.78" r="2.0"/><circle cx="298.33" cy="399.83" r="2.0"/><circle cx="300.37" cy="397.59" r="2.0"/><circle cx="302.41" cy="396.29" r="2.0"/><circle cx="304.45" cy="394.96" r="2.0"/><circle cx="306.49" cy="391.48" r="2.0"/><circle cx="308.54" cy="386.63" r="2.0"/><circle cx="310.58" cy="382.66" r="2.0"/><circle cx="312.62" cy="379.91" r="2.0"/><circle cx="314.66" cy="380.46" r="2.0"/><circle cx="316.70" cy="381.93" r="2.0"/><circle cx="318.75" cy="382.58" r="2.0"/><circle cx="320.79" cy="382.15" r="2.0"/><circle cx="322.83" cy="381.10" r="2.0"/><circle cx="324.87" cy="380.28" r="2.0"/><circle cx="326.91" cy="380.00" r="2.0"/><circle cx="328.96" cy="380.15" r="2.0"/><circle cx="331.00" cy="381.32" r="2.0"/><circle cx="333.04" cy="383.36" r="2.0"/><circle cx="335.08" cy="382.47" r="2.0"/><circle cx="337.12" cy="379.33" r="2.0"/><circle cx="339.17" cy="378.17" r="2.0"/><circle cx="341.21" cy="379.06" r="2.0"/><circle cx="343.25" cy="378.65" r="2.0"/><circle cx="345.29" cy="377.30" r="2.0"/><circle cx="347.33" cy="376.70" r="2.0"/><circle cx="349.38" cy="376.74" r="2.0"/><circle cx="351.42" cy="376.78" r="2.0"/><circle cx="353.46" cy="373.50" r="2.0"/><circle cx="355.50" cy="368.31" r="2.0"/><circle cx="357.54" cy="365.42" r="2.0"/><circle cx="359.59" cy="365.76" r="2.0"/><circle cx="361.63" cy="367.42" r="2.0"/><circle cx="363.67" cy="368.78" r="2.0"/><circle cx="365.71" cy="370.19" r="2.0"/><circle cx="367.75" cy="372.22" r="2.0"/><circle cx="369.80" cy="376.24" r="2.0"/><circle cx="371.84" cy="379.71" r="2.0"/><circle cx="373.88" cy="383.83" r="2.0"/><circle cx="375.92" cy="387.07" r="2.0"/><circle cx="377.96" cy="391.43" r="2.0"/><circle cx="380.01" cy="396.32" r="2.0"/><circle cx="382.05" cy="401.50" r="2.0"/><circle cx="384.09" cy="406.91" r="2.0"/><circle cx="386.13" cy="411.96" r="2.0"/><circle cx="388.17" cy="417.46" r="2.0"/><circle cx="390.22" cy="421.74" r="2.0"/><circle cx="392.26" cy="426.23" r="2.0"/><circle cx="394.30" cy="431.70" r="2.0"/></g>
<line x1="472.5" y1="288.5" x2="472.5" y2="442.8" stroke="#505050" stroke-width="1.1"/>
<line x1="471.9" y1="438.5" x2="676.9" y2="438.5" stroke="#5a5a5a" stroke-width="1.4"/>
<line x1="469.5" y1="438.50" x2="472.5" y2="438.50" stroke="#404040" stroke-width="1.1"/>
<line x1="469.5" y1="401.15" x2="472.5" y2="401.15" stroke="#404040" stroke-width="1.1"/>
<line x1="469.5" y1="363.80" x2="472.5" y2="363.80" stroke="#404040" stroke-width="1.1"/>
<line x1="469.5" y1="326.45" x2="472.5" y2="326.45" stroke="#404040" stroke-width="1.1"/>
<line x1="469.5" y1="289.10" x2="472.5" y2="289.10" stroke="#404040" stroke-width="1.1"/>
<line x1="472.50" y1="438.5" x2="472.50" y2="442.8" stroke="#505050" stroke-width="1.2"/>
<line x1="523.45" y1="438.5" x2="523.45" y2="442.8" stroke="#505050" stroke-width="1.2"/>
<line x1="574.40" y1="438.5" x2="574.40" y2="442.8" stroke="#505050" stroke-width="1.2"/>
<line x1="625.35" y1="438.5" x2="625.35" y2="442.8" stroke="#505050" stroke-width="1.2"/>
<line x1="676.30" y1="438.5" x2="676.30" y2="442.8" stroke="#505050" stroke-width="1.2"/>
<text transform="translate(447.94,294.50) scale(1.0596,1)" font-size="13.29" fill="#111">0.2</text>
<text transform="translate(448.19,368.50) scale(0.9611,1)" font-size="13.29" fill="#111">0.1</text>
<text transform="translate(459.95,443.50) scale(1.0300,1)" font-size="13.29" fill="#111">0</text>
<text transform="translate(476.21,300.87) scale(1.2633,1)" font-size="13.48" fill="#333">[µl]</text>
<text transform="translate(469.37,457.10) scale(1.0950,1)" font-size="10.29" fill="#5c5c5c">0</text>
<text transform="translate(517.14,457.10) scale(1.0950,1)" font-size="10.29" fill="#5c5c5c">25</text>
<text transform="translate(568.15,457.10) scale(1.0950,1)" font-size="10.29" fill="#5c5c5c">50</text>
<text transform="translate(619.04,457.10) scale(1.0950,1)" font-size="10.29" fill="#5c5c5c">75</text>
<text transform="translate(666.73,457.10) scale(1.0950,1)" font-size="10.29" fill="#5c5c5c">100</text>
<path d="M498.99 433.51V434.51M501.03 433.65V434.99M503.07 434.02V435.19M505.11 433.69V435.12M507.15 433.17V434.68M509.18 432.71V434.33M511.22 432.17V433.79M513.26 432.15V433.72M515.30 432.04V433.47M517.34 431.78V433.45M519.37 431.48V433.38M521.41 430.73V433.61M523.45 430.28V433.28M525.49 429.86V433.12M527.53 429.54V433.60M529.56 427.38V432.74M531.60 426.64V433.10M533.64 425.23V432.48M535.68 424.40V433.08M537.72 424.99V432.45M539.75 424.25V433.47M541.79 423.88V433.25M543.83 423.18V433.16M545.87 423.02V432.26M547.91 420.90V430.77M549.94 420.71V430.16M551.98 420.17V428.88M554.02 420.33V429.75M556.06 418.62V428.93M558.10 417.21V427.96M560.13 417.30V426.86M562.17 415.15V427.55M564.21 413.62V426.88M566.25 411.82V425.65M568.29 411.21V425.11M570.32 408.69V422.99M572.36 405.88V420.97M574.40 404.58V421.28M576.44 407.03V421.66M578.48 405.04V422.27M580.51 405.94V421.38M582.55 405.26V420.92M584.59 401.88V421.07M586.63 396.07V418.53M588.67 398.87V417.57M590.70 397.72V417.26M592.74 399.53V417.92M594.78 399.42V414.44M596.82 392.29V409.18M598.86 387.90V403.17M600.89 390.58V404.57M602.93 396.30V408.83M604.97 396.25V410.93M607.01 396.82V409.48M609.05 397.33V410.37M611.08 395.30V409.75M613.12 393.49V408.71M615.16 392.56V409.78M617.20 389.87V408.78M619.24 392.55V408.07M621.27 392.89V409.48M623.31 392.96V406.96M625.35 392.68V408.75M627.39 386.52V407.00M629.43 386.38V401.28M631.46 389.02V402.93M633.50 391.50V400.71M635.54 393.30V402.45M637.58 395.41V403.91M639.62 395.23V403.76M641.65 396.46V404.46M643.69 393.51V401.77M645.73 395.76V404.24M647.77 397.51V404.24M649.81 397.49V405.04M651.84 397.85V406.51M653.88 400.43V406.26M655.92 403.76V408.68M657.96 406.27V411.00M660.00 408.37V413.37M662.03 411.15V415.25M664.07 415.24V419.14M666.11 419.03V422.58M668.15 422.14V424.95M670.19 424.70V427.53M672.22 427.61V430.53M674.26 431.88V433.95M676.30 436.21V437.97" stroke="#b4b4b4" stroke-width="0.85" fill="none"/>
<path d="M497.99 433.51h2M497.99 434.51h2M500.03 433.65h2M500.03 434.99h2M502.07 434.02h2M502.07 435.19h2M504.11 433.69h2M504.11 435.12h2M506.15 433.17h2M506.15 434.68h2M508.18 432.71h2M508.18 434.33h2M510.22 432.17h2M510.22 433.79h2M512.26 432.15h2M512.26 433.72h2M514.30 432.04h2M514.30 433.47h2M516.34 431.78h2M516.34 433.45h2M518.37 431.48h2M518.37 433.38h2M520.41 430.73h2M520.41 433.61h2M522.45 430.28h2M522.45 433.28h2M524.49 429.86h2M524.49 433.12h2M526.53 429.54h2M526.53 433.60h2M528.56 427.38h2M528.56 432.74h2M530.60 426.64h2M530.60 433.10h2M532.64 425.23h2M532.64 432.48h2M534.68 424.40h2M534.68 433.08h2M536.72 424.99h2M536.72 432.45h2M538.75 424.25h2M538.75 433.47h2M540.79 423.88h2M540.79 433.25h2M542.83 423.18h2M542.83 433.16h2M544.87 423.02h2M544.87 432.26h2M546.91 420.90h2M546.91 430.77h2M548.94 420.71h2M548.94 430.16h2M550.98 420.17h2M550.98 428.88h2M553.02 420.33h2M553.02 429.75h2M555.06 418.62h2M555.06 428.93h2M557.10 417.21h2M557.10 427.96h2M559.13 417.30h2M559.13 426.86h2M561.17 415.15h2M561.17 427.55h2M563.21 413.62h2M563.21 426.88h2M565.25 411.82h2M565.25 425.65h2M567.29 411.21h2M567.29 425.11h2M569.32 408.69h2M569.32 422.99h2M571.36 405.88h2M571.36 420.97h2M573.40 404.58h2M573.40 421.28h2M575.44 407.03h2M575.44 421.66h2M577.48 405.04h2M577.48 422.27h2M579.51 405.94h2M579.51 421.38h2M581.55 405.26h2M581.55 420.92h2M583.59 401.88h2M583.59 421.07h2M585.63 396.07h2M585.63 418.53h2M587.67 398.87h2M587.67 417.57h2M589.70 397.72h2M589.70 417.26h2M591.74 399.53h2M591.74 417.92h2M593.78 399.42h2M593.78 414.44h2M595.82 392.29h2M595.82 409.18h2M597.86 387.90h2M597.86 403.17h2M599.89 390.58h2M599.89 404.57h2M601.93 396.30h2M601.93 408.83h2M603.97 396.25h2M603.97 410.93h2M606.01 396.82h2M606.01 409.48h2M608.05 397.33h2M608.05 410.37h2M610.08 395.30h2M610.08 409.75h2M612.12 393.49h2M612.12 408.71h2M614.16 392.56h2M614.16 409.78h2M616.20 389.87h2M616.20 408.78h2M618.24 392.55h2M618.24 408.07h2M620.27 392.89h2M620.27 409.48h2M622.31 392.96h2M622.31 406.96h2M624.35 392.68h2M624.35 408.75h2M626.39 386.52h2M626.39 407.00h2M628.43 386.38h2M628.43 401.28h2M630.46 389.02h2M630.46 402.93h2M632.50 391.50h2M632.50 400.71h2M634.54 393.30h2M634.54 402.45h2M636.58 395.41h2M636.58 403.91h2M638.62 395.23h2M638.62 403.76h2M640.65 396.46h2M640.65 404.46h2M642.69 393.51h2M642.69 401.77h2M644.73 395.76h2M644.73 404.24h2M646.77 397.51h2M646.77 404.24h2M648.81 397.49h2M648.81 405.04h2M650.84 397.85h2M650.84 406.51h2M652.88 400.43h2M652.88 406.26h2M654.92 403.76h2M654.92 408.68h2M656.96 406.27h2M656.96 411.00h2M659.00 408.37h2M659.00 413.37h2M661.03 411.15h2M661.03 415.25h2M663.07 415.24h2M663.07 419.14h2M665.11 419.03h2M665.11 422.58h2M667.15 422.14h2M667.15 424.95h2M669.19 424.70h2M669.19 427.53h2M671.22 427.61h2M671.22 430.53h2M673.26 431.88h2M673.26 433.95h2M675.30 436.21h2M675.30 437.97h2" stroke="#a0a0a0" stroke-width="0.7" fill="none"/>
<g fill="#fff" stroke="#4cc484" stroke-width="0.85"><circle cx="474.54" cy="437.26" r="2.0"/><circle cx="476.58" cy="436.70" r="2.0"/><circle cx="478.61" cy="436.27" r="2.0"/><circle cx="480.65" cy="435.91" r="2.0"/><circle cx="482.69" cy="435.48" r="2.0"/><circle cx="484.73" cy="435.13" r="2.0"/><circle cx="486.77" cy="434.85" r="2.0"/><circle cx="488.80" cy="434.71" r="2.0"/><circle cx="490.84" cy="434.32" r="2.0"/><circle cx="492.88" cy="434.00" r="2.0"/><circle cx="494.92" cy="433.80" r="2.0"/><circle cx="496.96" cy="433.80" r="2.0"/><circle cx="498.99" cy="434.02" r="2.0"/><circle cx="501.03" cy="434.33" r="2.0"/><circle cx="503.07" cy="434.55" r="2.0"/><circle cx="505.11" cy="434.34" r="2.0"/><circle cx="507.15" cy="433.94" r="2.0"/><circle cx="509.18" cy="433.45" r="2.0"/><circle cx="511.22" cy="433.09" r="2.0"/><circle cx="513.26" cy="432.84" r="2.0"/><circle cx="515.30" cy="432.70" r="2.0"/><circle cx="517.34" cy="432.56" r="2.0"/><circle cx="519.37" cy="432.37" r="2.0"/><circle cx="521.41" cy="432.14" r="2.0"/><circle cx="523.45" cy="431.85" r="2.0"/><circle cx="525.49" cy="431.58" r="2.0"/><circle cx="527.53" cy="431.44" r="2.0"/><circle cx="529.56" cy="430.47" r="2.0"/><circle cx="531.60" cy="429.31" r="2.0"/><circle cx="533.64" cy="428.54" r="2.0"/><circle cx="535.68" cy="428.57" r="2.0"/><circle cx="537.72" cy="428.76" r="2.0"/><circle cx="539.75" cy="428.90" r="2.0"/><circle cx="541.79" cy="428.42" r="2.0"/><circle cx="543.83" cy="427.86" r="2.0"/><circle cx="545.87" cy="427.24" r="2.0"/><circle cx="547.91" cy="426.46" r="2.0"/><circle cx="549.94" cy="425.69" r="2.0"/><circle cx="551.98" cy="424.93" r="2.0"/><circle cx="554.02" cy="424.23" r="2.0"/><circle cx="556.06" cy="423.59" r="2.0"/><circle cx="558.10" cy="422.95" r="2.0"/><circle cx="560.13" cy="422.31" r="2.0"/><circle cx="562.17" cy="421.30" r="2.0"/><circle cx="564.21" cy="420.07" r="2.0"/><circle cx="566.25" cy="418.66" r="2.0"/><circle cx="568.29" cy="417.28" r="2.0"/><circle cx="570.32" cy="415.67" r="2.0"/><circle cx="572.36" cy="413.00" r="2.0"/><circle cx="574.40" cy="413.08" r="2.0"/><circle cx="576.44" cy="414.52" r="2.0"/><circle cx="578.48" cy="414.65" r="2.0"/><circle cx="580.51" cy="414.31" r="2.0"/><circle cx="582.55" cy="413.52" r="2.0"/><circle cx="584.59" cy="410.71" r="2.0"/><circle cx="586.63" cy="408.06" r="2.0"/><circle cx="588.67" cy="407.41" r="2.0"/><circle cx="590.70" cy="407.10" r="2.0"/><circle cx="592.74" cy="408.03" r="2.0"/><circle cx="594.78" cy="407.16" r="2.0"/><circle cx="596.82" cy="400.05" r="2.0"/><circle cx="598.86" cy="395.90" r="2.0"/><circle cx="600.89" cy="397.35" r="2.0"/><circle cx="602.93" cy="402.43" r="2.0"/><circle cx="604.97" cy="403.64" r="2.0"/><circle cx="607.01" cy="404.15" r="2.0"/><circle cx="609.05" cy="404.13" r="2.0"/><circle cx="611.08" cy="403.43" r="2.0"/><circle cx="613.12" cy="402.22" r="2.0"/><circle cx="615.16" cy="400.23" r="2.0"/><circle cx="617.20" cy="398.70" r="2.0"/><circle cx="619.24" cy="400.87" r="2.0"/><circle cx="621.27" cy="401.52" r="2.0"/><circle cx="623.31" cy="400.57" r="2.0"/><circle cx="625.35" cy="399.35" r="2.0"/><circle cx="627.39" cy="396.74" r="2.0"/><circle cx="629.43" cy="394.42" r="2.0"/><circle cx="631.46" cy="395.71" r="2.0"/><circle cx="633.50" cy="396.75" r="2.0"/><circle cx="635.54" cy="397.39" r="2.0"/><circle cx="637.58" cy="398.91" r="2.0"/><circle cx="639.62" cy="400.16" r="2.0"/><circle cx="641.65" cy="399.65" r="2.0"/><circle cx="643.69" cy="397.91" r="2.0"/><circle cx="645.73" cy="399.62" r="2.0"/><circle cx="647.77" cy="401.13" r="2.0"/><circle cx="649.81" cy="401.52" r="2.0"/><circle cx="651.84" cy="401.96" r="2.0"/><circle cx="653.88" cy="403.43" r="2.0"/><circle cx="655.92" cy="405.79" r="2.0"/><circle cx="657.96" cy="408.18" r="2.0"/><circle cx="660.00" cy="410.77" r="2.0"/><circle cx="662.03" cy="413.48" r="2.0"/><circle cx="664.07" cy="416.86" r="2.0"/><circle cx="666.11" cy="420.61" r="2.0"/><circle cx="668.15" cy="423.50" r="2.0"/><circle cx="670.19" cy="426.25" r="2.0"/><circle cx="672.22" cy="429.04" r="2.0"/><circle cx="674.26" cy="432.92" r="2.0"/><circle cx="676.30" cy="437.00" r="2.0"/></g>
</svg></body></html>
